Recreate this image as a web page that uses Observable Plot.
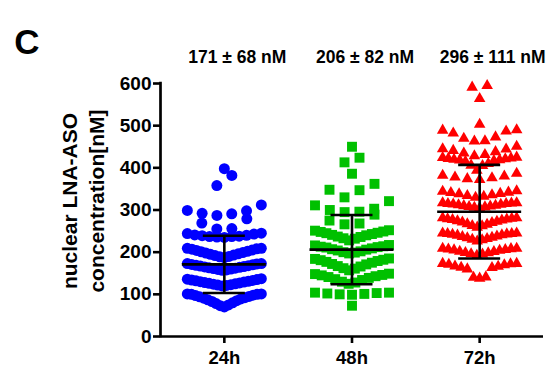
<!DOCTYPE html>
<html><head><meta charset="utf-8">
<script src="https://cdn.jsdelivr.net/npm/d3@7"></script>
<script src="https://cdn.jsdelivr.net/npm/@observablehq/plot@0.6"></script>
<style>
  html,body{margin:0;padding:0;background:#fff;}
</style>
</head><body><div id="chart"></div>
<script>
const groups = ["24h", "48h", "72h"];
const colors = ["#0000ff", "#00c000", "#ff0000"];
const symbols = ["circle", "square", "triangle"];
const means = [171, 206, 296];
const sds = [68, 82, 111];
const labels = ["171 ± 68 nM", "206 ± 82 nM", "296 ± 111 nM"];
const yTicks = [0, 100, 200, 300, 400, 500, 600];
const yLabel = "nuclear LNA-ASO\nconcentration[nM]";
const panelLabel = "C";

const values24 = [398, 382, 358, 312, 299, 291, 287, 292, 298, 279, 269, 255, 256,
  245, 244, 243, 241, 240, 238, 237, 236, 235, 237, 239,
  209, 207, 204, 201, 198, 196, 192, 189, 187, 190, 193, 195, 199, 202, 205, 208, 209,
  173, 172, 170, 168, 166, 164, 162, 160, 158, 157, 159, 161, 163, 165, 167, 169, 171, 173,
  137, 135, 133, 131, 129, 127, 125, 123, 121, 120, 122, 124, 126, 128, 130, 132, 134, 136,
  101, 100, 98, 95, 92, 89, 85, 80, 75, 70, 73, 78, 83, 87, 91, 94, 97, 100, 101];
const values48 = [450, 424, 413, 386, 362, 348, 347, 330, 321, 311, 303, 300, 295, 296, 289, 275, 268, 266,
  251, 249, 246, 243, 240, 236, 232, 228, 233, 237, 241, 245, 248, 252,
  216, 214, 212, 209, 206, 202, 199, 197, 200, 204, 207, 211, 213, 217,
  185, 182, 179, 175, 171, 166, 161, 157, 162, 167, 172, 177, 181, 184,
  149, 146, 143, 139, 134, 128, 125, 130, 136, 141, 145, 148,
  104, 103, 101, 99, 100, 102, 104, 73];
const values72 = [595, 591, 564, 503,
  489, 487, 490, 482, 473, 463, 464, 470,
  451, 445, 441, 444, 438, 435, 431, 428,
  425, 423, 421, 419, 417, 415, 418, 420, 422, 424, 405, 394, 406, 410,
  387, 382, 376, 372, 374, 380, 378,
  344, 342, 339, 336, 332, 330, 334, 338, 341, 345,
  315, 317, 316, 314, 312, 310, 308, 306, 305, 307, 309, 311, 313, 315, 317,
  281, 280, 278, 276, 273, 270, 266, 262, 259, 263, 267, 271, 274, 277, 279, 281,
  245, 244, 243, 241, 238, 235, 232, 229, 226, 230, 234, 237, 240, 242, 244, 245,
  209, 208, 206, 204, 201, 198, 195, 192, 196, 199, 202, 205, 207, 209,
  173, 170, 166, 163, 160, 172, 173, 164, 167, 171, 140, 138, 141];
const allValues = [values24, values48, values72];
const binOrigins = [66, 78, 66];

// GraphPad-like scatter layout: bin into rows, lowest value centred, alternating outward
const W = 553, H = 368, mL = 160, mR = 10, mT = 83, mB = 32;
const pxPerUnit = (W - mL - mR) / 3;
const binW = 36, rowWidthPx = 74, maxStepPx = 15;
function layout(values, origin, gi) {
  const bins = d3.group(values, v => Math.floor((v - origin) / binW));
  const out = [];
  for (const [, vs] of bins) {
    const s = vs.slice().sort((a, b) => a - b);
    const n = s.length;
    const step = n > 1 ? Math.min(maxStepPx, rowWidthPx / (n - 1)) : 0;
    s.forEach((v, k) => {
      let slot;
      if (n % 2) slot = k === 0 ? 0 : (k % 2 ? -1 : 1) * Math.ceil(k / 2);
      else slot = (k % 2 ? 1 : -1) * (Math.floor(k / 2) + 0.5);
      out.push({g: gi + 1, value: v, x: gi + 1 + slot * step / pxPerUnit});
    });
  }
  return out;
}
const points = allValues.map((vals, i) => layout(vals, binOrigins[i], i));
const stats = groups.map((g, i) => ({g: i + 1, name: g, mean: means[i], sd: sds[i], label: labels[i]}));
const radii = [5.5, 5.6, 4.3];
const capHalf = 21 / pxPerUnit, meanHalf = 42 / pxPerUnit;

const chart = Plot.plot({
  width: W, height: H,
  marginLeft: mL, marginRight: mR, marginTop: mT, marginBottom: mB,
  x: {domain: [0.5, 3.5]},
  y: {domain: [0, 600]},
  style: {fontFamily: "'Liberation Sans', Arial, sans-serif", fontWeight: "bold", fontSize: "19px", color: "#000", background: "#fff", overflow: "visible"},
  marks: [
    ...points.map((pts, i) => Plot.dot(pts, {x: "x", y: "value", symbol: symbols[i], r: radii[i], fill: colors[i], stroke: "none"})),
    Plot.ruleX(stats, {x: "g", y1: d => d.mean - d.sd, y2: d => d.mean + d.sd, strokeWidth: 2.6, stroke: "#000"}),
    Plot.ruleY(stats, {y: d => d.mean + d.sd, x1: d => d.g - capHalf, x2: d => d.g + capHalf, strokeWidth: 2.6, stroke: "#000"}),
    Plot.ruleY(stats, {y: d => d.mean - d.sd, x1: d => d.g - capHalf, x2: d => d.g + capHalf, strokeWidth: 2.6, stroke: "#000"}),
    Plot.ruleY(stats, {y: "mean", x1: d => d.g - meanHalf, x2: d => d.g + meanHalf, strokeWidth: 2.6, stroke: "#000"}),
    Plot.ruleX([0.5], {strokeWidth: 2.7, stroke: "#000", strokeLinecap: "square"}),
    Plot.ruleY([0], {strokeWidth: 2.7, stroke: "#000"}),
    Plot.axisY(yTicks, {tickSize: 7, tickPadding: 2, strokeWidth: 2.6, fontSize: 19, fontWeight: "bold", label: null}),
    Plot.axisX(stats.map(d => d.g), {tickSize: 7, tickPadding: 7, strokeWidth: 2.6, fontSize: 18.5, fontWeight: "bold", tickFormat: d => groups[d - 1], label: null}),
    Plot.text(stats, {x: "g", text: "label", frameAnchor: "top", dy: -33, dx: 13, fontSize: 17.5, fontWeight: "bold"}),
    Plot.text([panelLabel], {frameAnchor: "top-left", dx: -133.5, dy: -54.5, fontSize: 35, fontWeight: "bold", textAnchor: "middle"}),
    Plot.text([yLabel], {frameAnchor: "left", rotate: -90, dx: -79, dy: -9, fontSize: 21, fontWeight: "bold", lineHeight: 1.3, textAnchor: "middle"})
  ]
});
document.getElementById("chart").appendChild(chart);
</script>
</body></html>
